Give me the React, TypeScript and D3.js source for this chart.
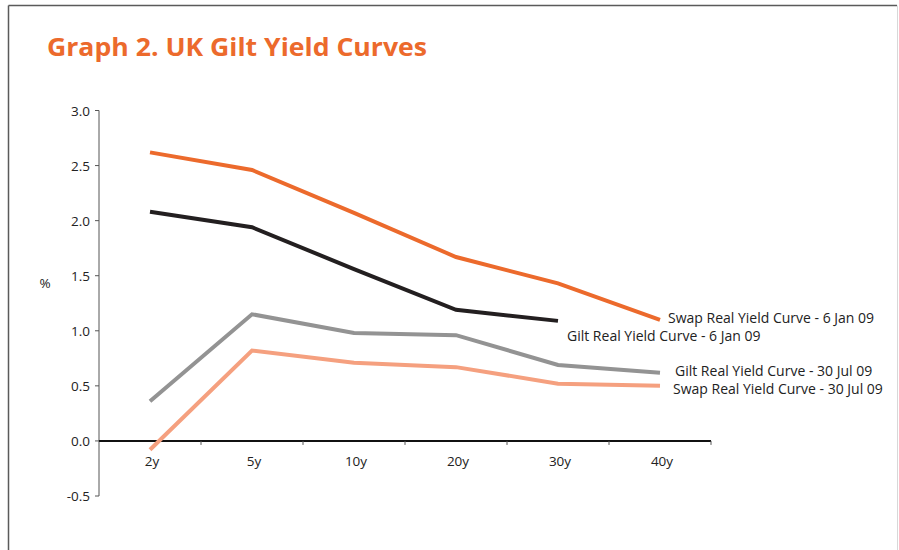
import React from "react";
import * as d3 from "d3";

const maturities = ["2y", "5y", "10y", "20y", "30y", "40y"];
const yTicks = [-0.5, 0, 0.5, 1, 1.5, 2, 2.5, 3];

const swapJan = [2.62, 2.46, 2.07, 1.67, 1.43, 1.1];
const giltJan = [2.08, 1.94, 1.56, 1.19, 1.09];
const giltJul = [0.36, 1.15, 0.98, 0.96, 0.69, 0.62];
const swapJul = [-0.08, 0.82, 0.71, 0.67, 0.52, 0.5];

const seriesNames = [
  "Swap Real Yield Curve - 6 Jan 09",
  "Gilt Real Yield Curve - 6 Jan 09",
  "Gilt Real Yield Curve - 30 Jul 09",
  "Swap Real Yield Curve - 30 Jul 09",
];
const seriesColors = ["#ec6a2c", "#231f20", "#939393", "#f5a07f"];

const W = 899;
const H = 550;
const font = "'Open Sans', 'Noto Sans', sans-serif";
const fs = 13.5;

export default function App() {
  const x = d3.scaleBand().domain(maturities).range([99, 711]);
  const y = d3.scaleLinear().domain([-0.5, 3]).range([496, 110.5]);

  const line = d3
    .line<number>()
    .x((_, i) => x(maturities[i])! + x.bandwidth() / 2)
    .y((d) => y(d));

  const series = [swapJan, giltJan, giltJul, swapJul];
  // label offsets relative to each line's last point
  const labelPos = [
    { dx: 8, dy: 3 },
    { dx: 9, dy: 20 },
    { dx: 15, dy: 3 },
    { dx: 13, dy: 8 },
  ];

  const boundaries = d3.range(maturities.length + 1).map((i) => 99 + i * x.step());

  return (
    <svg width={W} height={H} style={{ display: "block", position: "absolute", left: 0, top: 0 }}>
      <rect x={0} y={0} width={W} height={H} fill="#fff" />
      <line x1={8.5} y1={5.5} x2={897} y2={5.5} stroke="#5a5a5a" strokeWidth={1.5} />
      <line x1={8.5} y1={5.5} x2={8.5} y2={H} stroke="#5a5a5a" strokeWidth={1.5} />
      <line x1={897.5} y1={5.5} x2={897.5} y2={H} stroke="#d8d8d8" strokeWidth={1} />

      <text x={47} y={56} fill="#ec6a2c" fontFamily={font} fontWeight={700} fontSize={25} textLength={380} lengthAdjust="spacingAndGlyphs">
        Graph 2. UK Gilt Yield Curves
      </text>

      {/* y axis */}
      <line x1={99} y1={y(3)} x2={99} y2={y(-0.5)} stroke="#555" strokeWidth={1} />
      {yTicks.map((t) => (
        <g key={t}>
          <line x1={95} x2={99} y1={y(t)} y2={y(t)} stroke="#555" />
          <text x={90} y={y(t) + 5} textAnchor="end" fontFamily={font} fontSize={fs} fill="#222">
            {t.toFixed(1)}
          </text>
        </g>
      ))}
      <text x={45} y={288} textAnchor="middle" fontFamily={font} fontSize={fs} fill="#222">%</text>

      {/* x axis */}
      <line x1={99} x2={711} y1={y(0)} y2={y(0)} stroke="#111" strokeWidth={2} />
      {boundaries.slice(1).map((b) => (
        <line key={b} x1={b} x2={b} y1={y(0)} y2={y(0) + 4} stroke="#555" />
      ))}
      {maturities.map((m) => (
        <text key={m} x={x(m)! + x.bandwidth() / 2 + 2} y={466} textAnchor="middle" fontFamily={font} fontSize={fs} fill="#222">
          {m}
        </text>
      ))}

      {series.map((s, i) => {
        const last = s.length - 1;
        const lx = x(maturities[last])! + x.bandwidth() / 2;
        const ly = y(s[last]);
        return (
          <g key={i}>
            <path d={line(s)!} fill="none" stroke={seriesColors[i]} strokeWidth={4} />
            <text x={lx + labelPos[i].dx} y={ly + labelPos[i].dy} fontFamily={font} fontSize={14} fill="#222">
              {seriesNames[i]}
            </text>
          </g>
        );
      })}
    </svg>
  );
}
